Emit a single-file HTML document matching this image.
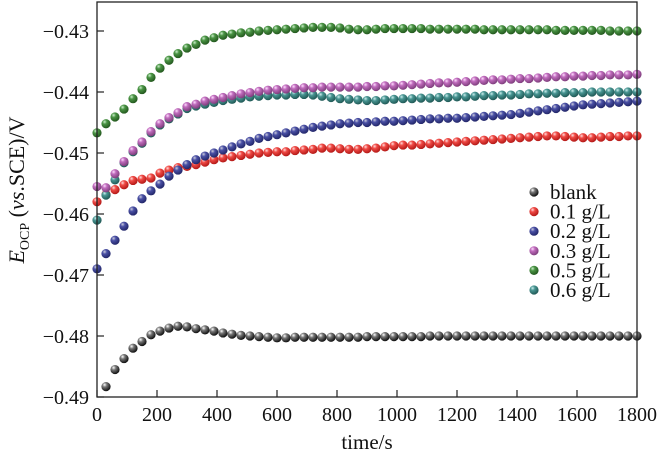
<!DOCTYPE html>
<html><head><meta charset="utf-8"><style>
body{margin:0;background:#fff}
svg{display:block;font-family:"Liberation Serif",serif}
</style></head><body>
<svg id="chart" width="657" height="459" viewBox="0 0 657 459">
<defs>
<radialGradient id="gk" cx="0.35" cy="0.3" r="0.7"><stop offset="0" stop-color="#fff"/><stop offset="0.35" stop-color="#777"/><stop offset="1" stop-color="#111"/></radialGradient>
<radialGradient id="gr" cx="0.35" cy="0.3" r="0.7"><stop offset="0" stop-color="#fdd"/><stop offset="0.35" stop-color="#f04a45"/><stop offset="1" stop-color="#b51a18"/></radialGradient>
<radialGradient id="gb" cx="0.35" cy="0.3" r="0.7"><stop offset="0" stop-color="#ccd"/><stop offset="0.35" stop-color="#4a50a5"/><stop offset="1" stop-color="#23276a"/></radialGradient>
<radialGradient id="gm" cx="0.35" cy="0.3" r="0.7"><stop offset="0" stop-color="#fdf"/><stop offset="0.35" stop-color="#c06cbd"/><stop offset="1" stop-color="#803f7e"/></radialGradient>
<radialGradient id="gg" cx="0.35" cy="0.3" r="0.7"><stop offset="0" stop-color="#cec"/><stop offset="0.35" stop-color="#4a9444"/><stop offset="1" stop-color="#24591f"/></radialGradient>
<radialGradient id="gt" cx="0.35" cy="0.3" r="0.7"><stop offset="0" stop-color="#cee"/><stop offset="0.35" stop-color="#489592"/><stop offset="1" stop-color="#215a57"/></radialGradient>
</defs>
<g id="marks"></g>
<g id="axes"></g>
<g id="legend"></g>
</svg>
<script>
const times = [];
for (let t = 0; t <= 1800; t += 30) times.push(t);
const seriesNames = ["blank","0.1 g/L","0.2 g/L","0.3 g/L","0.5 g/L","0.6 g/L"];
const blank = [null,-0.4883,-0.4855,-0.4837,-0.4820,-0.4809,-0.4798,-0.4792,-0.4787,-0.4784,-0.4785,-0.4788,-0.4790,-0.4792,-0.4795,-0.4797,-0.4799,-0.4800,-0.4801,-0.4802,-0.4803,-0.4803,-0.4802,-0.4802,-0.4802,-0.4802,-0.4802,-0.4802,-0.4802,-0.4802,-0.4801,-0.4801,-0.4801,-0.4801,-0.4801,-0.4801,-0.4801,-0.4800,-0.4800,-0.4800,-0.4800,-0.4800,-0.4800,-0.4800,-0.4800,-0.4800,-0.4800,-0.4800,-0.4800,-0.4800,-0.4800,-0.4800,-0.4800,-0.4800,-0.4800,-0.4800,-0.4800,-0.4800,-0.4800,-0.4800,-0.4800];
const red = [-0.4580,-0.4568,-0.4560,-0.4552,-0.4545,-0.4543,-0.4541,-0.4533,-0.4528,-0.4524,-0.4522,-0.4519,-0.4515,-0.4511,-0.4508,-0.4506,-0.4504,-0.4502,-0.4500,-0.4499,-0.4498,-0.4498,-0.4496,-0.4495,-0.4494,-0.4492,-0.4492,-0.4493,-0.4494,-0.4494,-0.4493,-0.4492,-0.4490,-0.4488,-0.4487,-0.4487,-0.4486,-0.4485,-0.4484,-0.4483,-0.4482,-0.4481,-0.4480,-0.4479,-0.4478,-0.4477,-0.4476,-0.4475,-0.4474,-0.4473,-0.4472,-0.4472,-0.4473,-0.4474,-0.4475,-0.4475,-0.4474,-0.4473,-0.4473,-0.4472,-0.4472];
const blue = [-0.4690,-0.4665,-0.4643,-0.4620,-0.4595,-0.4575,-0.4562,-0.4551,-0.4538,-0.4528,-0.4519,-0.4511,-0.4505,-0.4500,-0.4495,-0.4490,-0.4485,-0.4481,-0.4476,-0.4473,-0.4470,-0.4467,-0.4464,-0.4461,-0.4458,-0.4456,-0.4454,-0.4452,-0.4451,-0.4450,-0.4450,-0.4449,-0.4448,-0.4448,-0.4447,-0.4446,-0.4445,-0.4444,-0.4444,-0.4443,-0.4443,-0.4442,-0.4441,-0.4440,-0.4439,-0.4438,-0.4437,-0.4435,-0.4433,-0.4431,-0.4429,-0.4427,-0.4425,-0.4423,-0.4421,-0.4420,-0.4419,-0.4418,-0.4417,-0.4416,-0.4415];
const magenta = [-0.4555,-0.4557,-0.4534,-0.4514,-0.4496,-0.4482,-0.4465,-0.4452,-0.4442,-0.4434,-0.4424,-0.4420,-0.4415,-0.4412,-0.4409,-0.4406,-0.4403,-0.4401,-0.4399,-0.4397,-0.4396,-0.4395,-0.4394,-0.4393,-0.4393,-0.4392,-0.4392,-0.4392,-0.4392,-0.4392,-0.4391,-0.4391,-0.4390,-0.4390,-0.4389,-0.4388,-0.4387,-0.4386,-0.4385,-0.4385,-0.4384,-0.4383,-0.4382,-0.4381,-0.4380,-0.4380,-0.4379,-0.4378,-0.4378,-0.4377,-0.4376,-0.4375,-0.4375,-0.4374,-0.4374,-0.4373,-0.4373,-0.4372,-0.4372,-0.4372,-0.4371];
const green = [-0.4467,-0.4452,-0.4441,-0.4428,-0.4411,-0.4396,-0.4376,-0.4361,-0.4348,-0.4337,-0.4328,-0.4322,-0.4315,-0.4311,-0.4307,-0.4305,-0.4303,-0.4302,-0.4300,-0.4299,-0.4298,-0.4297,-0.4296,-0.4295,-0.4294,-0.4294,-0.4294,-0.4295,-0.4297,-0.4298,-0.4298,-0.4297,-0.4296,-0.4296,-0.4296,-0.4296,-0.4296,-0.4297,-0.4297,-0.4297,-0.4297,-0.4297,-0.4297,-0.4298,-0.4298,-0.4298,-0.4298,-0.4298,-0.4298,-0.4298,-0.4298,-0.4299,-0.4299,-0.4299,-0.4299,-0.4299,-0.4299,-0.4300,-0.4300,-0.4300,-0.4300];
const teal = [-0.4610,-0.4569,-0.4544,-0.4516,-0.4498,-0.4484,-0.4467,-0.4454,-0.4444,-0.4436,-0.4427,-0.4423,-0.4420,-0.4417,-0.4414,-0.4412,-0.4410,-0.4408,-0.4407,-0.4406,-0.4405,-0.4405,-0.4404,-0.4404,-0.4405,-0.4407,-0.4409,-0.4411,-0.4412,-0.4413,-0.4414,-0.4414,-0.4413,-0.4412,-0.4411,-0.4411,-0.4410,-0.4410,-0.4409,-0.4409,-0.4408,-0.4408,-0.4407,-0.4406,-0.4406,-0.4405,-0.4405,-0.4404,-0.4403,-0.4403,-0.4402,-0.4402,-0.4401,-0.4401,-0.4401,-0.4400,-0.4400,-0.4400,-0.4400,-0.4400,-0.4400];
const xTicks = [0,200,400,600,800,1000,1200,1400,1600,1800];
const yTicks = [-0.43,-0.44,-0.45,-0.46,-0.47,-0.48,-0.49];
const yTickLabels = ["\u22120.43","\u22120.44","\u22120.45","\u22120.46","\u22120.47","\u22120.48","\u22120.49"];

const X0=97, X1=637, Y0=397, YT=2;
const xs = t => X0 + t/1800*(X1-X0);
const ys = v => Y0 - (v+0.49)*6100;
const NS="http://www.w3.org/2000/svg";
function mk(tag, attrs, parent){const e=document.createElementNS(NS,tag);for(const k in attrs)e.setAttribute(k,attrs[k]);parent.appendChild(e);return e;}
const marks=document.getElementById('marks'), axes=document.getElementById('axes'), legend=document.getElementById('legend');
const allSeries=[blank,red,blue,magenta,green,teal];
const fills=["url(#gk)","url(#gr)","url(#gb)","url(#gm)","url(#gg)","url(#gt)"];
const order=[0,1,2,5,3,4];
order.forEach(si=>{
  const g=mk('g',{},marks);
  
  
  allSeries[si].forEach((v,i)=>{
    if(v===null) return;
    const c=mk('circle',{cx:xs(times[i]),cy:ys(v),r:4.6,fill:fills[si]},g);
    
    
  });
});
const fr=mk('rect',{x:X0,y:YT,width:X1-X0,height:Y0-YT,fill:'none',stroke:'#222','stroke-width':1.3},axes);


xTicks.forEach(t=>{
  mk('line',{x1:xs(t),x2:xs(t),y1:Y0,y2:Y0-7,stroke:'#222','stroke-width':1.2},axes);
  const tx=mk('text',{x:xs(t),y:Y0+24,'font-size':20,'text-anchor':'middle',fill:'#111'},axes);
  tx.textContent=t;
  
  
});
yTicks.forEach((v,i)=>{
  mk('line',{x1:X0,x2:X0+7,y1:ys(v),y2:ys(v),stroke:'#222','stroke-width':1.2},axes);
  const tx=mk('text',{x:89,y:ys(v)+7,'font-size':20,'text-anchor':'end',fill:'#111'},axes);
  tx.textContent=yTickLabels[i];
  
  
});
const xt=mk('text',{x:367,y:449,'font-size':21,'text-anchor':'middle',fill:'#111'},axes);
xt.textContent='time/s';


const yt=mk('text',{transform:'translate(24,190) rotate(-90)','font-size':22,'text-anchor':'middle',fill:'#111'},axes);
yt.innerHTML='<tspan font-style="italic">E</tspan><tspan font-size="14" dy="5">OCP</tspan><tspan dy="-5"> (</tspan><tspan font-style="italic">vs</tspan><tspan>.SCE)/V</tspan>';


seriesNames.forEach((n,i)=>{
  const y=192+i*19.6;
  const g=mk('g',{},legend);
  
  
  mk('circle',{cx:534,cy:y,r:4.6,fill:fills[i]},g);
  const t=mk('text',{x:550,y:y+7,'font-size':21,fill:'#111'},g);
  t.textContent=n;
});
</script>
</body></html>
